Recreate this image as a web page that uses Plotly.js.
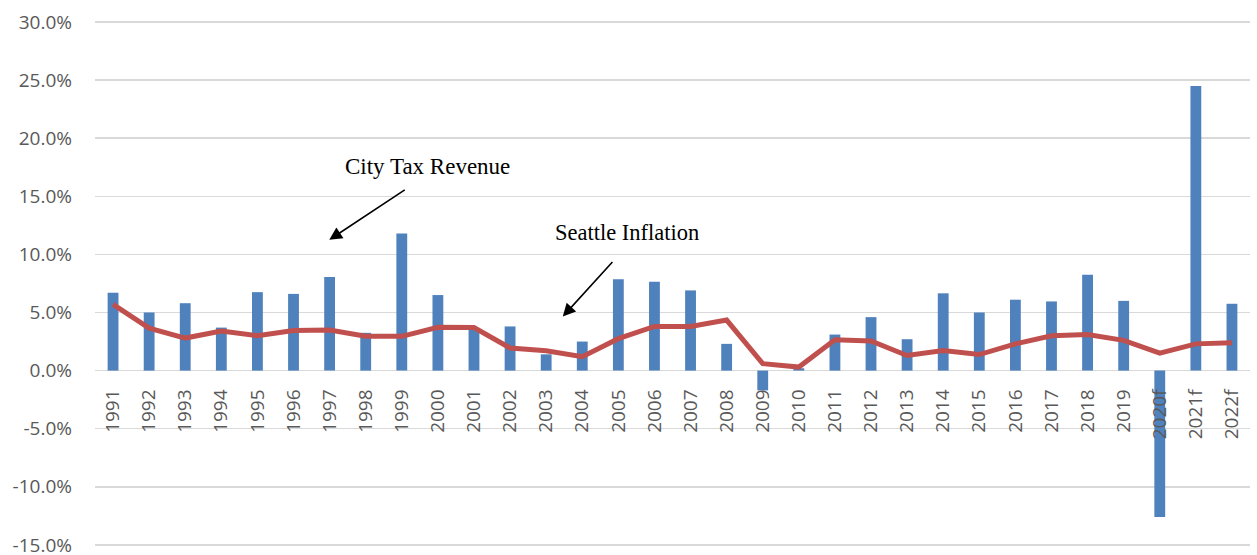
<!DOCTYPE html>
<html>
<head>
<meta charset="utf-8">
<script src="https://cdn.plot.ly/plotly-3.0.1.min.js"></script>
<style>html,body{margin:0;padding:0;background:#fff;}#chart{width:1257px;height:555px;}</style>
</head>
<body>
<div id="chart"></div>
<script>
const years = ["1991","1992","1993","1994","1995","1996","1997","1998","1999","2000","2001","2002","2003","2004","2005","2006","2007","2008","2009","2010","2011","2012","2013","2014","2015","2016","2017","2018","2019","2020f","2021f","2022f"];
const cityTaxRevenue = [6.7,5.0,5.8,3.7,6.75,6.6,8.05,3.25,11.8,6.5,3.5,3.8,1.4,2.5,7.85,7.65,6.9,2.3,-1.7,0.2,3.1,4.6,2.7,6.65,5.0,6.1,5.95,8.25,6.0,-12.6,24.5,5.75];
const seattleInflation = [5.7,3.65,2.8,3.4,3.0,3.45,3.5,2.95,2.95,3.73,3.7,1.95,1.7,1.2,2.75,3.8,3.8,4.35,0.6,0.3,2.65,2.55,1.3,1.72,1.38,2.3,3.0,3.1,2.6,1.5,2.3,2.4];
const yTickVals = [-15,-10,-5,0,5,10,15,20,25,30];
const yTickText = yTickVals.map(v => v.toFixed(1) + '%');

const bars = {
  type: 'bar', x: years, y: cityTaxRevenue, name: 'City Tax Revenue',
  marker: {color: '#4f81bd'}, hoverinfo: 'skip'
};
const line = {
  type: 'scatter', mode: 'lines', x: years, y: seattleInflation, name: 'Seattle Inflation',
  line: {color: '#c0504d', width: 5}, hoverinfo: 'skip'
};

const tickFont = {family: 'Open Sans, sans-serif', size: 19, color: '#595959'};
const layout = {
  width: 1257, height: 555,
  margin: {l: 95, r: 7, t: 20, b: 8},
  paper_bgcolor: '#ffffff', plot_bgcolor: '#ffffff',
  showlegend: false,
  bargap: 0.7,
  xaxis: {
    type: 'category', anchor: 'free', position: (0 + 15.18) / 45.35,
    tickangle: -90, tickfont: tickFont, showgrid: false, showline: false,
    ticks: '', zeroline: false, ticklabelstandoff: 14
  },
  yaxis: {
    range: [-15.18, 30.17], tickmode: 'array', tickvals: yTickVals, ticktext: yTickText,
    tickfont: tickFont, showgrid: true, gridcolor: '#d9d9d9', gridwidth: 1.5,
    zeroline: true, zerolinecolor: '#d9d9d9', zerolinewidth: 1.5,
    showline: false, ticks: '', ticklabelstandoff: 22, ticklabeloverflow: 'allow'
  },
  annotations: [
    {xref: 'x', yref: 'y', x: 8.7, y: 17.6, text: 'City Tax Revenue', showarrow: false,
     font: {family: 'Liberation Serif, serif', size: 23, color: '#000'}},
    {xref: 'x', yref: 'y', x: 14.23, y: 11.85, text: 'Seattle Inflation', showarrow: false,
     font: {family: 'Liberation Serif, serif', size: 22.5, color: '#000'}},
    {xref: 'x', yref: 'y', x: 5.99, y: 11.25, ax: 77, ay: -51, text: '', showarrow: true,
     arrowhead: 2, arrowsize: 1.6, arrowwidth: 1.6, arrowcolor: '#000', standoff: 0},
    {xref: 'x', yref: 'y', x: 12.46, y: 4.65, ax: 51, ay: -56, text: '', showarrow: true,
     arrowhead: 2, arrowsize: 1.6, arrowwidth: 1.6, arrowcolor: '#000', standoff: 0}
  ]
};
Plotly.newPlot('chart', [bars, line], layout, {displayModeBar: false, staticPlot: true});
</script>
</body>
</html>
